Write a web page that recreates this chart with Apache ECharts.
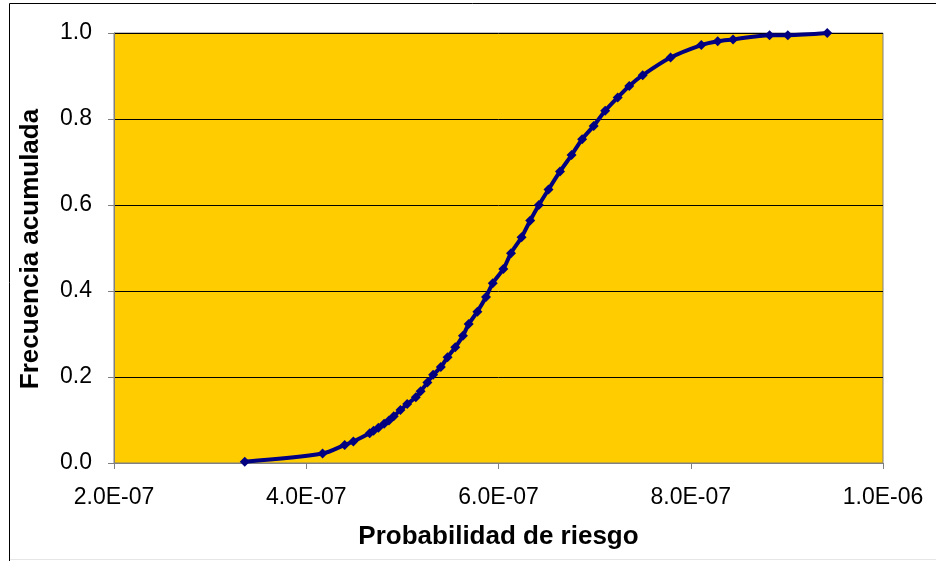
<!DOCTYPE html>
<html>
<head>
<meta charset="utf-8">
<script src="https://cdn.jsdelivr.net/npm/echarts@6/dist/echarts.min.js"></script>
<style>html,body{margin:0;padding:0;background:#fff}#c{width:936px;height:561px}</style>
</head>
<body>
<div id="c"></div>
<script>
const probRiesgo = [3.36e-7,4.17e-7,4.40e-7,4.49e-7,4.66e-7,4.70e-7,4.75e-7,4.81e-7,4.86e-7,4.91e-7,4.98e-7,5.05e-7,5.14e-7,5.19e-7,5.26e-7,5.32e-7,5.40e-7,5.47e-7,5.55e-7,5.63e-7,5.69e-7,5.78e-7,5.87e-7,5.94e-7,6.05e-7,6.13e-7,6.24e-7,6.33e-7,6.42e-7,6.52e-7,6.64e-7,6.76e-7,6.87e-7,6.99e-7,7.11e-7,7.24e-7,7.36e-7,7.50e-7,7.79e-7,8.11e-7,8.28e-7,8.44e-7,8.82e-7,9.01e-7,9.42e-7];
const frecAcum = [0.003,0.022,0.042,0.050,0.069,0.075,0.082,0.091,0.099,0.109,0.123,0.137,0.153,0.167,0.187,0.205,0.223,0.246,0.269,0.296,0.323,0.352,0.386,0.418,0.451,0.488,0.525,0.564,0.600,0.636,0.678,0.716,0.753,0.784,0.819,0.850,0.877,0.902,0.943,0.972,0.981,0.985,0.995,0.995,1.0];
const xTitle = 'Probabilidad de riesgo';
const yTitle = 'Frecuencia acumulada';

const FONT = 'Liberation Sans, Arial, sans-serif';
function fmtExp(v){
  const s = v.toExponential(1).toUpperCase();
  const m = s.match(/^([\d.]+)E([+-])(\d+)$/);
  if(!m) return s;
  return m[1] + 'E' + m[2] + (m[3].length < 2 ? '0' + m[3] : m[3]);
}

const chart = echarts.init(document.getElementById('c'), null, {renderer:'canvas'});
chart.setOption({
  animation:false,
  textStyle:{fontFamily:FONT},
  grid:{left:114, top:33, right:53, bottom:98, show:true, backgroundColor:'#FFCC00', borderColor:'#808080', borderWidth:1},
  graphic:[
    {type:'polyline', shape:{points:[[9.5,561],[9.5,3.5],[936,3.5]]}, style:{stroke:'#000', lineWidth:1, fill:null}},
    {type:'line', shape:{x1:10, y1:559.5, x2:936, y2:559.5}, style:{stroke:'#e6e6e6', lineWidth:1}},
    {type:'text', x:31, y:249, rotation:Math.PI/2,
     style:{text:yTitle, font:'bold 26px ' + FONT, fill:'#000', align:'center', verticalAlign:'middle'}}
  ],
  xAxis:{
    type:'value', min:2e-7, max:1e-6, interval:2e-7,
    name:xTitle, nameLocation:'middle', nameGap:61,
    nameTextStyle:{fontSize:26, fontWeight:'bold', color:'#000', fontFamily:FONT},
    axisLine:{show:true, lineStyle:{color:'#808080', width:1}},
    axisTick:{show:true, inside:false, length:6, lineStyle:{color:'#808080'}},
    axisLabel:{color:'#000', fontSize:23, margin:23, formatter:fmtExp},
    splitLine:{show:false}
  },
  yAxis:{
    type:'value', min:0, max:1, interval:0.2,
    axisLine:{show:true, lineStyle:{color:'#808080', width:1}},
    axisTick:{show:true, inside:false, length:6, lineStyle:{color:'#808080'}},
    axisLabel:{color:'#000', fontSize:23, margin:22, formatter:v=>v.toFixed(1)},
    splitLine:{show:true, lineStyle:{color:'#000', width:1}}
  },
  series:[{
    type:'line',
    data:probRiesgo.map((x,i)=>[x,frecAcum[i]]),
    smooth:0.3,
    symbol:'diamond', symbolSize:10,
    lineStyle:{color:'#000080', width:4},
    itemStyle:{color:'#000080'}
  }]
});
</script>
</body>
</html>
